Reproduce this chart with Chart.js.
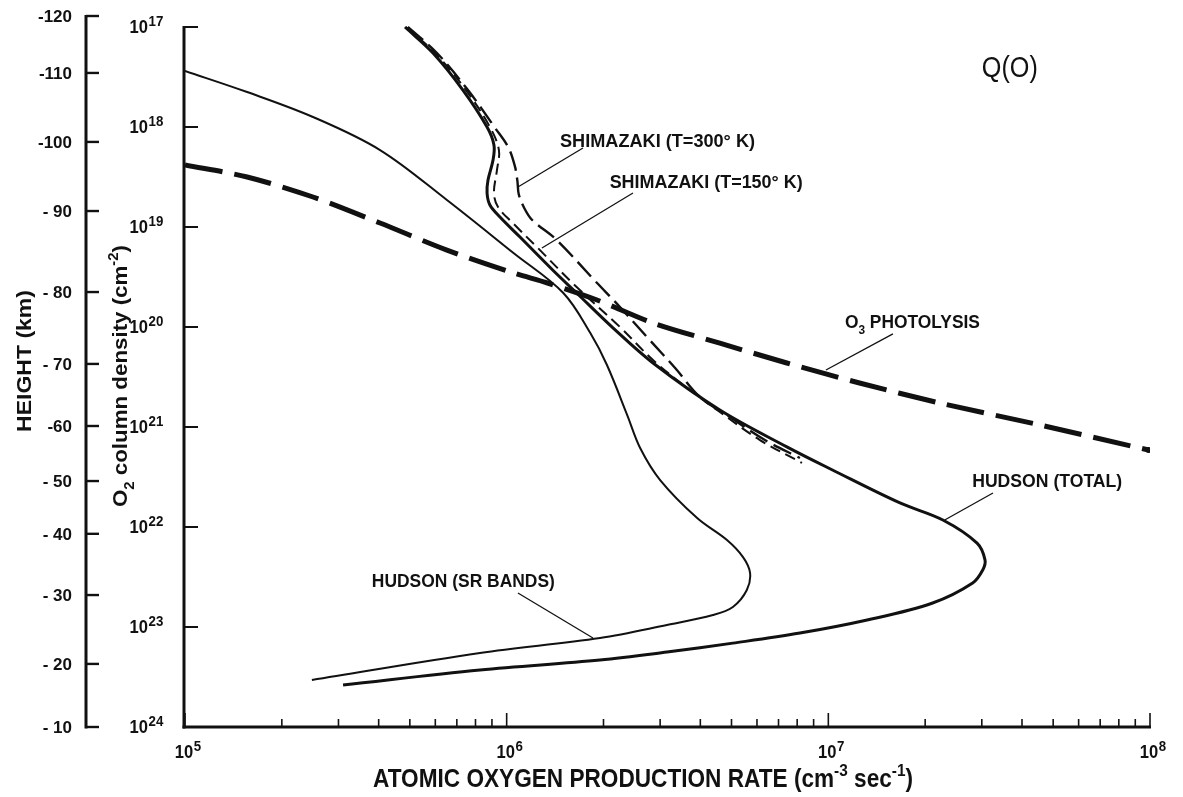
<!DOCTYPE html>
<html>
<head>
<meta charset="utf-8">
<title>Q(O) – atomic oxygen production rate</title>
<script src="https://cdn.jsdelivr.net/npm/chart.js@4.4.1/dist/chart.umd.min.js"></script>
<style>
  html, body { margin: 0; padding: 0; background: #fff; overflow: hidden; }
  canvas { display: block; }
</style>
</head>
<body>
<canvas id="chart" width="1183" height="797"></canvas>
<script>
// Production rate of atomic oxygen (cm^-3 s^-1) against O2 column density (cm^-2)

// Hudson, total O2 photodissociation
const hudsonTotalRate = [4.83e5, 5.90e5, 7.31e5, 8.69e5, 9.13e5, 9.07e5, 8.75e5, 8.69e5, 8.87e5, 9.53e5,
  1.10e6, 1.39e6, 1.65e6, 2.14e6, 2.85e6, 4.60e6, 7.43e6, 1.03e7, 1.67e7, 2.27e7, 2.90e7, 3.07e7,
  3.02e7, 2.81e7, 2.11e7, 1.32e7, 8.16e6, 5.05e6, 3.15e6, 1.95e6, 8.26e5, 3.10e5];
const hudsonTotalColumn = [1.0e17, 1.82e17, 4.27e17, 1.0e18, 1.51e18, 2.14e18, 3.39e18, 4.57e18, 6.03e18, 7.94e18,
  1.26e19, 2.69e19, 4.57e19, 1.02e20, 2.29e20, 6.76e20, 1.58e21, 2.69e21, 5.75e21, 8.51e21, 1.45e22, 2.14e22,
  2.69e22, 3.63e22, 5.75e22, 8.51e22, 1.15e23, 1.45e23, 1.78e23, 2.14e23, 2.69e23, 3.80e23];

// Hudson, Schumann-Runge bands only
const hudsonSRRate = [1.00e5, 1.56e5, 2.50e5, 4.04e5, 6.52e5, 1.05e6, 1.50e6, 1.82e6, 2.05e6, 2.37e6, 2.60e6,
  3.00e6, 3.91e6, 4.84e6, 5.43e6, 5.71e6, 5.58e6, 5.05e6, 4.38e6, 3.15e6, 1.95e6, 8.26e5, 2.48e5];
const hudsonSRColumn = [2.75e17, 4.47e17, 7.94e17, 1.70e18, 5.37e18, 1.82e19, 4.57e19, 1.15e20, 2.40e20, 7.59e20, 1.62e21,
  3.39e21, 8.13e21, 1.35e22, 2.00e22, 2.88e22, 4.27e22, 6.31e22, 7.59e22, 9.55e22, 1.29e23, 1.82e23, 3.39e23];

// Shimazaki, T = 150 K
const shim150Rate = [4.86e5, 5.99e5, 7.47e5, 8.87e5, 9.46e5, 9.33e5, 9.13e5, 9.40e5, 1.06e6, 1.24e6, 1.65e6,
  2.25e6, 2.85e6, 3.64e6, 4.60e6, 6.13e6, 8.28e6];
const shim150Column = [1.0e17, 1.82e17, 4.27e17, 1.0e18, 1.70e18, 2.69e18, 4.57e18, 6.31e18, 9.55e18, 1.58e19, 3.98e19,
  1.0e20, 2.14e20, 4.07e20, 7.08e20, 1.35e21, 2.29e21];

// Shimazaki, T = 300 K
const shim300Rate = [4.93e5, 6.07e5, 7.58e5, 9.20e5, 1.01e6, 1.06e6, 1.08e6, 1.09e6, 1.13e6, 1.20e6, 1.42e6,
  1.91e6, 2.25e6, 2.73e6, 3.34e6, 3.99e6, 4.94e6, 6.35e6, 8.16e6];
const shim300Column = [1.0e17, 1.82e17, 4.27e17, 1.02e18, 1.58e18, 2.45e18, 3.47e18, 4.68e18, 6.31e18, 8.51e18, 1.32e19,
  3.63e19, 6.31e19, 1.26e20, 2.57e20, 5.01e20, 7.94e20, 1.35e21, 2.04e21];

// O3 photolysis
const o3Rate = [1.00e5, 1.56e5, 2.50e5, 4.04e5, 6.52e5, 1.05e6, 1.34e6, 1.91e6, 2.85e6, 4.60e6, 7.43e6,
  1.25e7, 2.22e7, 4.55e7, 9.90e7];
const o3Column = [2.40e18, 3.16e18, 5.01e18, 9.12e18, 1.70e19, 2.88e19, 3.63e19, 5.37e19, 9.12e19, 1.45e20, 2.29e20,
  3.63e20, 5.75e20, 9.55e20, 1.70e21];

// Axis ticks
const rateDecades = [5, 6, 7, 8];
const columnDecades = [17, 18, 19, 20, 21, 22, 23, 24];
const heightLabels = ['-120', '-110', '-100', '- 90', '- 80', '- 70', '-60', '- 50', '- 40', '- 30', '- 20', '- 10'];
const heightColumn = [7.76e16, 2.88e17, 1.41e18, 6.92e18, 4.47e19, 2.34e20, 9.77e20, 3.47e21, 1.17e22, 4.79e22, 2.34e23, 1.0e24];

// Curve labels: text segments, left/baseline anchor and leader line in data units
const curveNotes = [
  { segs: [['SHIMAZAKI (T=300° K)']], at: [1.465e6, 1.58e18], width: 195,
    leader: [[1.727e6, 1.62e18], [1.084e6, 3.98e18]] },
  { segs: [['SHIMAZAKI (T=150° K)']], at: [2.09e6, 4.07e18], width: 193,
    leader: [[2.47e6, 4.57e18], [1.287e6, 1.62e19]] },
  { segs: [['O'], ['3', 'sub'], [' PHOTOLYSIS']], at: [1.126e7, 1.02e20], width: 135,
    leader: [[1.588e7, 1.17e20], [9.83e6, 2.69e20]] },
  { segs: [['HUDSON (TOTAL)']], at: [2.80e7, 3.98e21], width: 150,
    leader: [[3.25e7, 4.57e21], [2.30e7, 8.51e21]] },
  { segs: [['HUDSON (SR BANDS)']], at: [3.81e5, 3.98e22], width: 183,
    leader: [[1.084e6, 4.57e22], [1.855e6, 1.29e23]] },
];

const FONT = '"Liberation Sans", Arial, "DejaVu Sans", sans-serif';
const INK = '#111111';

function points(xs, ys) { return xs.map((x, i) => ({ x: x, y: ys[i] })); }

// Draw text made of plain / superscript / subscript pieces; optionally squeeze to a width
function drawRich(ctx, segs, x, y, size, weight, align, fitWidth) {
  const fontFor = s => `${weight} ${s[1] ? Math.round(size * 0.66) : size}px ${FONT}`;
  const widths = segs.map(s => { ctx.font = fontFor(s); return ctx.measureText(s[0]).width; });
  const natural = widths.reduce((a, b) => a + b, 0);
  const sx = fitWidth ? fitWidth / natural : 1;
  const total = natural * sx;
  const start = align === 'center' ? x - total / 2 : align === 'right' ? x - total : x;
  ctx.save();
  ctx.translate(start, y);
  ctx.scale(sx, 1);
  ctx.textAlign = 'left';
  ctx.textBaseline = 'alphabetic';
  let cx = 0;
  segs.forEach((s, i) => {
    ctx.font = fontFor(s);
    const dy = s[1] === 'sup' ? -size * 0.45 : s[1] === 'sub' ? size * 0.32 : 0;
    ctx.fillText(s[0], cx, dy);
    cx += widths[i];
  });
  ctx.restore();
  return total;
}

function seg(ctx, x1, y1, x2, y2) {
  ctx.beginPath(); ctx.moveTo(x1, y1); ctx.lineTo(x2, y2); ctx.stroke();
}

// "10" with a raised exponent
function drawPower(ctx, exp, x, baseline, align) {
  ctx.font = `bold 18px ${FONT}`;
  const wBase = ctx.measureText('10').width * 0.92;
  ctx.font = `bold 14px ${FONT}`;
  const wExp = ctx.measureText(String(exp)).width;
  let left = x;
  if (align === 'center') left = x - wBase / 2;
  if (align === 'right') left = x - wBase;
  drawRich(ctx, [['10']], left, baseline, 18, 'bold', 'left', wBase);
  drawRich(ctx, [[String(exp)]], left + wBase + 0.5, baseline - 7, 14, 'bold', 'left', wExp * 0.95);
}

// Axes, tick marks, labels and curve annotations
const axesPlugin = {
  id: 'axesPlugin',
  afterDraw(chart) {
    const ctx = chart.ctx;
    const xs = chart.scales.x, ys = chart.scales.y;
    const X = v => xs.getPixelForValue(v);
    const Y = v => ys.getPixelForValue(v);
    ctx.save();
    ctx.strokeStyle = INK;
    ctx.fillStyle = INK;
    ctx.lineCap = 'butt';

    // rate axis along the bottom
    const yBase = Y(1e24);
    const xLeft = X(1e5) - 1;
    ctx.lineWidth = 3;
    seg(ctx, xLeft - 1.5, yBase, X(1e8) + 1, yBase);
    ctx.lineWidth = 1.6;
    rateDecades.forEach((d, i) => {
      const px = X(Math.pow(10, d));
      seg(ctx, px, yBase, px, yBase - 14);
      if (i < rateDecades.length - 1) {
        for (let m = 2; m <= 9; m++) {
          const mx = X(m * Math.pow(10, d));
          seg(ctx, mx, yBase, mx, yBase - 8);
        }
      }
      drawPower(ctx, d, px - 1, yBase + 31, 'center');
    });

    // O2 column density axis
    ctx.lineWidth = 3;
    seg(ctx, xLeft, Y(1e17) - 1, xLeft, yBase + 1.5);
    ctx.lineWidth = 2;
    columnDecades.forEach(d => {
      const py = Y(Math.pow(10, d));
      seg(ctx, xLeft, py, xLeft + 14, py);
      drawPower(ctx, d, 148, py + 6, 'right');
    });

    // height axis
    const hx = 86;
    ctx.lineWidth = 3;
    seg(ctx, hx, Y(heightColumn[0]) - 1, hx, Y(heightColumn[heightColumn.length - 1]) + 1.5);
    ctx.lineWidth = 2.4;
    heightColumn.forEach((c, i) => {
      const py = Y(c);
      seg(ctx, hx, py, hx + 13, py);
      drawRich(ctx, [[heightLabels[i]]], 72, py + 6, 17, 'bold', 'right');
    });

    // axis titles
    drawRich(ctx, [['ATOMIC OXYGEN PRODUCTION RATE (cm'], ['-3', 'sup'], [' sec'], ['-1', 'sup'], [')']],
      643, 787, 25, 'bold', 'center', 540);

    ctx.save();
    ctx.translate(23, 361);
    ctx.rotate(-Math.PI / 2);
    drawRich(ctx, [['HEIGHT (km)']], 0, 8, 21, 'bold', 'center', 142);
    ctx.restore();

    ctx.save();
    ctx.translate(120, 376);
    ctx.rotate(-Math.PI / 2);
    drawRich(ctx, [['O'], ['2', 'sub'], [' column density (cm'], ['-2', 'sup'], [')']], 0, 7, 21, 'bold', 'center', 262);
    ctx.restore();

    // panel tag
    drawRich(ctx, [['Q(O)']], X(3.0e7), Y(3.16e17), 30, 'normal', 'left', 56);

    // curve annotations with leader lines
    ctx.lineWidth = 1.3;
    curveNotes.forEach(n => {
      drawRich(ctx, n.segs, X(n.at[0]), Y(n.at[1]), 19, 'bold', 'left', n.width);
      const a = n.leader[0], b = n.leader[1];
      seg(ctx, X(a[0]), Y(a[1]), X(b[0]), Y(b[1]));
    });

    ctx.restore();
  }
};

const lastIndexDot = (ctx) => ctx.dataIndex === o3Rate.length - 1 ? 3 : 0;

new Chart(document.getElementById('chart'), {
  type: 'line',
  data: {
    datasets: [
      { label: 'O3 photolysis', data: points(o3Rate, o3Column), borderColor: INK, backgroundColor: INK,
        borderWidth: 5, borderDash: [38, 12], tension: 0.3, pointRadius: lastIndexDot, pointBorderWidth: 0 },
      { label: 'Shimazaki (T=300 K)', data: points(shim300Rate, shim300Column), borderColor: INK,
        borderWidth: 2.4, borderDash: [20, 7], tension: 0.35, pointRadius: 0 },
      { label: 'Shimazaki (T=150 K)', data: points(shim150Rate, shim150Column), borderColor: INK,
        borderWidth: 2, borderDash: [11, 6], tension: 0.35, pointRadius: 0 },
      { label: 'Hudson (SR bands)', data: points(hudsonSRRate, hudsonSRColumn), borderColor: INK,
        borderWidth: 2, tension: 0.35, pointRadius: 0 },
      { label: 'Hudson (total)', data: points(hudsonTotalRate, hudsonTotalColumn), borderColor: INK,
        borderWidth: 3, tension: 0.35, pointRadius: 0 },
    ]
  },
  options: {
    responsive: false,
    devicePixelRatio: 1,
    animation: false,
    layout: { padding: { left: 185, right: 33, top: 16, bottom: 70 } },
    plugins: { legend: { display: false }, tooltip: { enabled: false } },
    elements: { line: { capBezierPoints: true, borderCapStyle: 'butt', borderJoinStyle: 'round' } },
    scales: {
      x: { type: 'logarithmic', min: 1e5, max: 1e8, display: false },
      y: { type: 'logarithmic', reverse: true, min: heightColumn[0], max: 1e24, display: false }
    }
  },
  plugins: [axesPlugin]
});
</script>
</body>
</html>
